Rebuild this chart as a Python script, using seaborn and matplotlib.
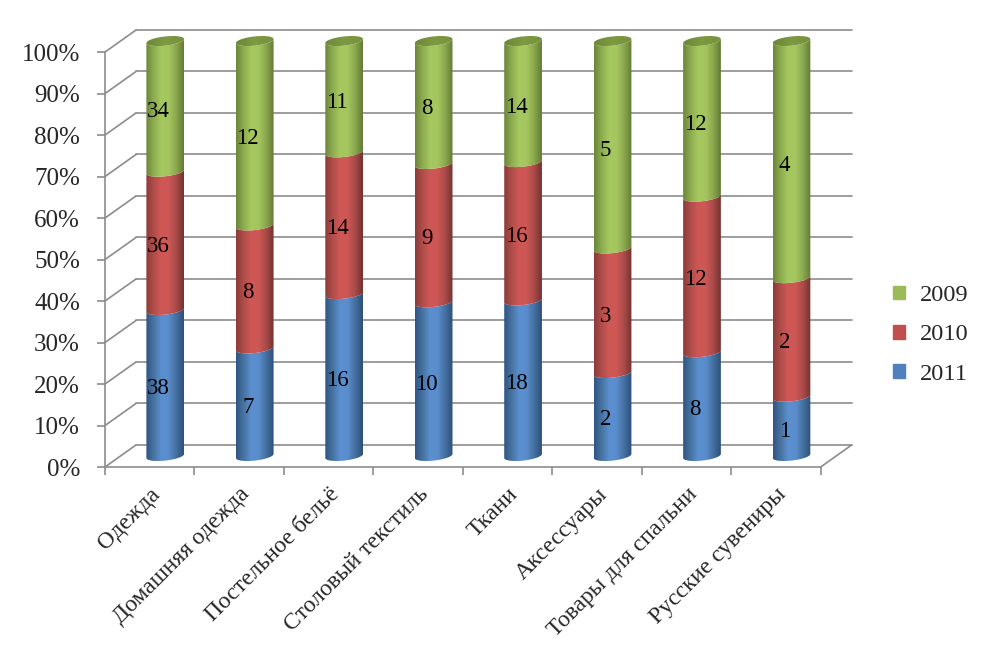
import numpy as np
import pandas as pd
import matplotlib
matplotlib.use('Agg')
import matplotlib.pyplot as plt
import seaborn as sns
from matplotlib.colors import LinearSegmentedColormap
from matplotlib.patches import PathPatch, Patch
from matplotlib.path import Path

categories = ['Одежда', 'Домашняя одежда', 'Постельное бельё', 'Столовый текстиль',
              'Ткани', 'Аксессуары', 'Товары для спальни', 'Русские сувениры']
counts_2011 = [38, 7, 16, 10, 18, 2, 8, 1]
counts_2010 = [36, 8, 14, 9, 16, 3, 12, 2]
counts_2009 = [34, 12, 11, 8, 14, 5, 12, 4]
percent_ticks = [0, 10, 20, 30, 40, 50, 60, 70, 80, 90, 100]

# left to right shading of each cylinder: edge, lit middle, edge
shades = {
    '2011': ['#2f5585', '#47739f', '#5b8fd0', '#5a8dcc', '#44709f', '#2d4f7a'],
    '2010': ['#8a3b39', '#b04d4a', '#cf5856', '#cd5755', '#a84a48', '#743230'],
    '2009': ['#6b853a', '#8dab4f', '#a6c860', '#a4c55f', '#8aa74d', '#627a36'],
}
legend_colors = {'2009': '#9bbb59', '2010': '#c0504d', '2011': '#4f81bd'}
cap_cmap = LinearSegmentedColormap.from_list('cap', ['#6d8738', '#7d9a42', '#76923c'])

GRAY = '#8c8c8c'
W, H = 989, 672
PX_X = 89.4   # pixels per category
PX_Y = 4.14   # pixels per percent
DEPTH_X = 31 / PX_X
DEPTH_Y = 22 / PX_Y
ELL_B = 4.6 / PX_Y
ELL_TILT = 2.0 / PX_Y

sns.set_theme(style='white')
plt.rcParams['font.family'] = ['Liberation Serif', 'DejaVu Serif']

df = pd.DataFrame({'category': categories, '2011': counts_2011,
                   '2010': counts_2010, '2009': counts_2009})
totals = df[['2011', '2010', '2009']].sum(axis=1)

fig = plt.figure(figsize=(W / 100, H / 100), dpi=100)
ax = fig.add_axes([105 / W, (H - 467) / H, 746.7 / W, 437 / H])

# stacked bars through seaborn, bottom series first
bottom = np.zeros(len(df))
stack = []
for year in ['2011', '2010', '2009']:
    share = (df[year] / totals * 100).to_numpy()
    n_before = len(ax.patches)
    sns.barplot(x=df['category'], y=share, bottom=bottom + DEPTH_Y / 2, width=37.7 / PX_X,
                color=legend_colors[year], ax=ax, zorder=3)
    stack.append((year, ax.patches[n_before:], share, bottom.copy()))
    bottom = bottom + share


def edge_curve(cx, half, y, start, stop):
    t = np.linspace(start, stop, 40)
    return np.column_stack([cx + half * np.cos(t),
                            y - ELL_B * np.sin(t) + ELL_TILT * np.cos(t)])


def shaded(x0, x1, y0, y1, cmap, path, z):
    img = ax.imshow(np.linspace(0, 1, 256)[None, :], cmap=cmap, extent=[x0, x1, y0, y1],
                    aspect='auto', interpolation='bilinear', zorder=z)
    clip = PathPatch(path, transform=ax.transData, fc='none', ec='none')
    ax.add_patch(clip)
    img.set_clip_path(clip)


# turn the flat bars into cylinders
z = 3
for year, bars, share, base in stack:
    cmap = LinearSegmentedColormap.from_list(year, shades[year])
    for i, bar in enumerate(bars):
        bar.set_visible(False)
        half = bar.get_width() / 2
        cx = bar.get_x() + half + DEPTH_X / 2
        y0, y1 = bar.get_y(), bar.get_y() + bar.get_height()
        lower = edge_curve(cx, half, y0, 0, np.pi)
        upper = edge_curve(cx, half, y1, np.pi, 0)
        path = Path(np.vstack([lower, upper, lower[:1]]))
        shaded(cx - half, cx + half, y0 - 2 * ELL_B, y1 + 2 * ELL_B, cmap, path, z)
        if year == '2009':
            cap = Path(edge_curve(cx, half, y1, 0, 2 * np.pi))
            shaded(cx - half, cx + half, y1 - 2 * ELL_B, y1 + 2 * ELL_B, cap_cmap, cap, z + 2)
        # label sits a little in front of the cylinder axis
        ax.text(cx - 7 / PX_X, base[i] + share[i] / 2 + DEPTH_Y / 2 - 5.5 / PX_Y,
                str(df[year][i]), ha='center', va='center', fontsize=16.5, color='black', zorder=10)
    z += 1

# walls and floor
x0, x1 = -0.5, 7.5
for p in percent_ticks:
    ax.plot([x0, x0 + DEPTH_X], [p, p + DEPTH_Y], color=GRAY, lw=1.2, zorder=1, clip_on=False)
    ax.plot([x0 + DEPTH_X, x1 + DEPTH_X], [p + DEPTH_Y, p + DEPTH_Y], color=GRAY, lw=1.2,
            zorder=1, clip_on=False)
ax.plot([x1, x1 + DEPTH_X], [0, DEPTH_Y], color=GRAY, lw=1.2, zorder=1, clip_on=False)

ax.set_xlim(x0, x1 + DEPTH_X)
ax.set_ylim(0, 100 + DEPTH_Y)
ax.patch.set_alpha(0)
for side in ['top', 'right']:
    ax.spines[side].set_visible(False)
ax.spines['left'].set_bounds(0, 100)
ax.spines['bottom'].set_bounds(x0, x1)
for side in ['left', 'bottom']:
    ax.spines[side].set_color(GRAY)
    ax.spines[side].set_linewidth(1.2)

ax.set_xlabel('')
ax.set_ylabel('')
ax.set_yticks(percent_ticks)
ax.set_yticklabels([f'{p}%' for p in percent_ticks], fontsize=18)
ax.tick_params(axis='y', length=6, width=1.2, color=GRAY, pad=12, left=True)
ax.set_xticks(range(len(categories)))
ax.set_xticklabels(categories, fontsize=17, rotation=45, ha='right', va='top', rotation_mode='anchor')
ax.tick_params(axis='x', which='major', length=0, pad=12)
ax.set_xticks(np.arange(x0, x1 + 1), minor=True)
ax.tick_params(axis='x', which='minor', length=6, width=1.2, color=GRAY, bottom=True)

handles = [Patch(color=legend_colors[y], label=y) for y in ['2009', '2010', '2011']]
fig.legend(handles=handles, loc='center left', bbox_to_anchor=(893 / W, (H - 335) / H),
           frameon=False, fontsize=17.6, handlelength=0.5, handleheight=0.5, handletextpad=0.6,
           labelspacing=0.75, borderpad=0, borderaxespad=0)

fig.savefig('out.png', dpi=100)
